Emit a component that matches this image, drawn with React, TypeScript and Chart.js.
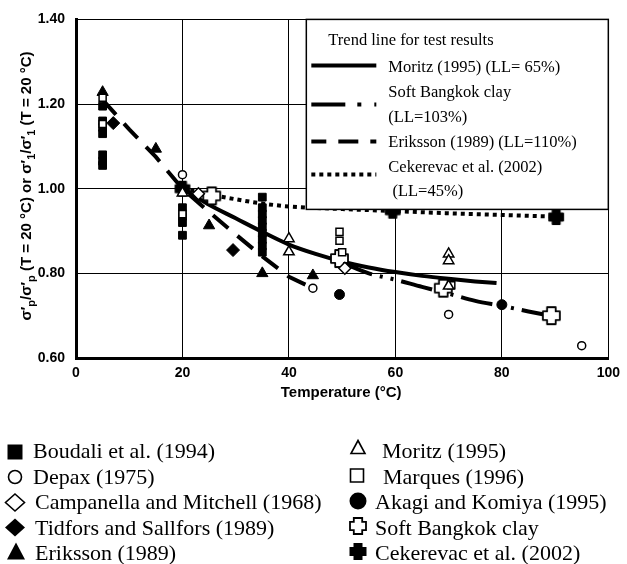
import { useEffect, useRef } from "react";
import { Chart, registerables } from "chart.js";

Chart.register(...registerables);

// ---- Measured points: temperature (°C) and normalised yield stress ratio ----
const boudaliT = [5, 5, 5, 5, 5, 5, 5, 20, 20, 20, 20, 35, 35, 35, 35, 35, 35, 35, 35, 35];
const boudaliR = [1.195, 1.16, 1.145, 1.13, 1.08, 1.065, 1.055, 0.955, 0.935, 0.92, 0.89, 0.98, 0.955, 0.94, 0.925, 0.91, 0.895, 0.88, 0.865, 0.85];

const depaxT = [20, 44.5, 70, 95];
const depaxR = [1.033, 0.765, 0.703, 0.629];

const campanellaT = [23, 50.5];
const campanellaR = [0.988, 0.812];

const tidforsT = [7, 20, 29.5];
const tidforsR = [1.155, 1.0, 0.855];

const erikssonT = [5, 15, 25, 35, 44.5];
const erikssonR = [1.228, 1.094, 0.913, 0.8, 0.795];

const moritzT = [20, 40, 40, 70, 70, 70];
const moritzR = [0.99, 0.882, 0.851, 0.846, 0.83, 0.77];

const marquesT = [5, 5, 20, 49.5, 49.5, 50, 70.5];
const marquesR = [1.215, 1.153, 0.94, 0.898, 0.877, 0.85, 0.772];

const akagiT = [49.5, 80];
const akagiR = [0.75, 0.726];

const bangkokT = [25.5, 49.5, 69, 89.3];
const bangkokR = [0.983, 0.835, 0.765, 0.7];

const cekerevacT = [20, 59.5, 90.2];
const cekerevacR = [1.0, 0.948, 0.933];

// ---- Trend lines ----
const moritzLineT = [20, 25, 30, 35, 40, 45, 50, 55, 60, 65, 70, 75, 79];
const moritzLineR = [1.0, 0.962, 0.93, 0.898, 0.868, 0.846, 0.828, 0.814, 0.803, 0.794, 0.787, 0.781, 0.777];

const bangkokLineT = [50, 55, 60, 65, 70, 75, 80, 85, 89];
const bangkokLineR = [0.825, 0.8, 0.785, 0.768, 0.752, 0.735, 0.723, 0.71, 0.7];

const erikssonLineT = [5, 10, 15, 20, 25, 30, 35, 40, 44.5];
const erikssonLineR = [1.21, 1.14, 1.075, 1.0, 0.945, 0.892, 0.84, 0.792, 0.765];

const cekerevacLineT = [20, 25, 30, 35, 40, 50, 60, 70, 80, 90];
const cekerevacLineR = [1.0, 0.987, 0.975, 0.965, 0.958, 0.952, 0.947, 0.942, 0.938, 0.934];

// ---- Axes ----
const xTicks = [0, 20, 40, 60, 80, 100];
const yTicks = [0.6, 0.8, 1.0, 1.2, 1.4];
const xTitle = "Temperature (°C)";

const trendHeading = "Trend line for test results";
const leftLegend = [
  "Boudali et al. (1994)",
  "Depax (1975)",
  "Campanella and Mitchell (1968)",
  "Tidfors and Sallfors (1989)",
  "Eriksson (1989)",
];
const rightLegend = [
  "Moritz (1995)",
  "Marques (1996)",
  "Akagi and Komiya (1995)",
  "Soft Bangkok clay",
  "Cekerevac et al. (2002)",
];

const SANS = "'Liberation Sans', Arial, Helvetica, sans-serif";
const SERIF = "'Liberation Serif', 'Times New Roman', Times, serif";

const pts = (t: number[], r: number[]) => t.map((x, i) => ({ x, y: r[i] }));

function plusPath(ctx: CanvasRenderingContext2D, cx: number, cy: number, s: number, a: number) {
  ctx.beginPath();
  ctx.moveTo(cx - a, cy - s);
  ctx.lineTo(cx + a, cy - s);
  ctx.lineTo(cx + a, cy - a);
  ctx.lineTo(cx + s, cy - a);
  ctx.lineTo(cx + s, cy + a);
  ctx.lineTo(cx + a, cy + a);
  ctx.lineTo(cx + a, cy + s);
  ctx.lineTo(cx - a, cy + s);
  ctx.lineTo(cx - a, cy + a);
  ctx.lineTo(cx - s, cy + a);
  ctx.lineTo(cx - s, cy - a);
  ctx.lineTo(cx - a, cy - a);
  ctx.closePath();
}

function makePlus(s: number, a: number, filled: boolean): HTMLCanvasElement {
  const c = document.createElement("canvas");
  const size = Math.ceil(2 * s + 4);
  c.width = size;
  c.height = size;
  const ctx = c.getContext("2d")!;
  plusPath(ctx, size / 2, size / 2, s, a);
  ctx.fillStyle = filled ? "#000" : "#fff";
  ctx.fill();
  ctx.lineWidth = 1.8;
  ctx.strokeStyle = "#000";
  ctx.lineJoin = "round";
  ctx.stroke();
  return c;
}

function drawSquare(ctx: CanvasRenderingContext2D, cx: number, cy: number, w: number, h: number, filled: boolean) {
  ctx.beginPath();
  ctx.rect(cx - w / 2, cy - h / 2, w, h);
  if (filled) {
    ctx.fillStyle = "#000";
    ctx.fill();
  } else {
    ctx.fillStyle = "#fff";
    ctx.fill();
    ctx.lineWidth = 1.6;
    ctx.strokeStyle = "#000";
    ctx.stroke();
  }
}

function drawCircle(ctx: CanvasRenderingContext2D, cx: number, cy: number, r: number, filled: boolean) {
  ctx.beginPath();
  ctx.arc(cx, cy, r, 0, Math.PI * 2);
  if (filled) {
    ctx.fillStyle = "#000";
    ctx.fill();
  } else {
    ctx.lineWidth = 1.6;
    ctx.strokeStyle = "#000";
    ctx.stroke();
  }
}

function drawDiamond(ctx: CanvasRenderingContext2D, cx: number, cy: number, hw: number, hh: number, filled: boolean) {
  ctx.beginPath();
  ctx.moveTo(cx, cy - hh);
  ctx.lineTo(cx + hw, cy);
  ctx.lineTo(cx, cy + hh);
  ctx.lineTo(cx - hw, cy);
  ctx.closePath();
  if (filled) {
    ctx.fillStyle = "#000";
    ctx.fill();
  } else {
    ctx.lineWidth = 1.6;
    ctx.strokeStyle = "#000";
    ctx.stroke();
  }
}

function drawTriangle(ctx: CanvasRenderingContext2D, cx: number, cy: number, hw: number, hh: number, filled: boolean) {
  ctx.beginPath();
  ctx.moveTo(cx, cy - hh);
  ctx.lineTo(cx + hw, cy + hh);
  ctx.lineTo(cx - hw, cy + hh);
  ctx.closePath();
  if (filled) {
    ctx.fillStyle = "#000";
    ctx.fill();
  } else {
    ctx.lineWidth = 1.6;
    ctx.strokeStyle = "#000";
    ctx.stroke();
  }
}

const decorations = {
  id: "decorations",
  afterDatasetsDraw(chart: any) {
    const ctx: CanvasRenderingContext2D = chart.ctx;
    const area = chart.chartArea;
    // trend-line key in the upper-right corner of the plot
    const bx = area.right - 302;
    const by = area.top;
    const bw = 302;
    const bh = 190;
    ctx.save();
    ctx.fillStyle = "#fff";
    ctx.fillRect(bx, by, bw, bh);
    ctx.lineWidth = 1.5;
    ctx.strokeStyle = "#000";
    ctx.strokeRect(bx, by, bw, bh);

    ctx.fillStyle = "#000";
    ctx.font = `16.5px ${SERIF}`;
    ctx.textAlign = "left";
    ctx.textBaseline = "alphabetic";
    ctx.fillText(trendHeading, bx + 22, by + 26);
    ctx.fillText("Moritz (1995) (LL= 65%)", bx + 82, by + 53);
    ctx.fillText("Soft Bangkok clay", bx + 82, by + 78);
    ctx.fillText("(LL=103%)", bx + 82, by + 103);
    ctx.fillText("Eriksson (1989) (LL=110%)", bx + 82, by + 128);
    ctx.fillText("Cekerevac et al. (2002)", bx + 82, by + 153);
    ctx.fillText(" (LL=45%)", bx + 82, by + 177);

    const sx0 = bx + 5;
    const sx1 = bx + 70;
    ctx.lineWidth = 4;
    ctx.lineCap = "butt";
    const sample = (y: number, dash: number[]) => {
      ctx.setLineDash(dash);
      ctx.beginPath();
      ctx.moveTo(sx0, y);
      ctx.lineTo(sx1, y);
      ctx.stroke();
    };
    sample(by + 46, []);
    sample(by + 85, [34, 12, 4, 13, 4, 100]);
    sample(by + 122, [15, 12, 20, 12, 6, 100]);
    sample(by + 155, [4, 4]);
    ctx.setLineDash([]);
    ctx.restore();
  },
  afterDraw(chart: any) {
    const ctx: CanvasRenderingContext2D = chart.ctx;
    const area = chart.chartArea;
    ctx.save();
    ctx.fillStyle = "#000";

    // x axis title
    ctx.font = `bold 15px ${SANS}`;
    ctx.textAlign = "center";
    ctx.textBaseline = "middle";
    ctx.fillText(xTitle, (area.left + area.right) / 2 - 1, 393);

    // y axis title with subscripts
    const segs = [
      { t: "σ′", sub: false },
      { t: "p", sub: true },
      { t: "/σ′", sub: false },
      { t: "p", sub: true },
      { t: " (T = 20 °C) or σ′", sub: false },
      { t: "1", sub: true },
      { t: "/σ′", sub: false },
      { t: "1", sub: true },
      { t: " (T = 20 °C)", sub: false },
    ];
    const mainFont = `bold 15px ${SANS}`;
    const subFont = `bold 11px ${SANS}`;
    let total = 0;
    for (const s of segs) {
      ctx.font = s.sub ? subFont : mainFont;
      total += ctx.measureText(s.t).width;
    }
    ctx.translate(31, 186 + total / 2);
    ctx.rotate(-Math.PI / 2);
    ctx.textAlign = "left";
    ctx.textBaseline = "alphabetic";
    let x = 0;
    for (const s of segs) {
      ctx.font = s.sub ? subFont : mainFont;
      ctx.fillText(s.t, x, s.sub ? 4 : 0);
      x += ctx.measureText(s.t).width;
    }
    ctx.setTransform(1, 0, 0, 1, 0, 0);

    // symbol key below the chart
    const rows = [458, 483.5, 509, 534.5, 560];
    ctx.font = `22px ${SERIF}`;
    ctx.textAlign = "left";
    ctx.textBaseline = "alphabetic";
    const leftTextX = [33, 33, 35, 35, 35];
    leftLegend.forEach((t, i) => ctx.fillText(t, leftTextX[i], rows[i]));
    const rightTextX = [382, 383, 375, 375, 375];
    rightLegend.forEach((t, i) => ctx.fillText(t, rightTextX[i], rows[i]));

    drawSquare(ctx, 15, 452, 15, 15, true);
    drawCircle(ctx, 15, 477, 6.5, false);
    drawDiamond(ctx, 15, 502.5, 9.5, 8.5, false);
    drawDiamond(ctx, 15, 527.5, 10, 9, true);
    drawTriangle(ctx, 16, 551, 9, 8.5, true);

    drawTriangle(ctx, 358, 447, 7, 6.5, false);
    drawSquare(ctx, 357, 475.5, 13, 13, false);
    drawCircle(ctx, 358, 501, 8.5, true);
    plusPath(ctx, 358, 526, 8, 4.2);
    ctx.fillStyle = "#fff";
    ctx.fill();
    ctx.lineWidth = 1.8;
    ctx.strokeStyle = "#000";
    ctx.stroke();
    plusPath(ctx, 358, 551.5, 8.5, 4.5);
    ctx.fillStyle = "#000";
    ctx.fill();

    ctx.restore();
  },
};

export default function App() {
  const ref = useRef<HTMLCanvasElement>(null);

  useEffect(() => {
    const canvas = ref.current;
    if (!canvas) return;

    const openPlus = makePlus(8.5, 4.3, false);
    const filledPlus = makePlus(7, 3.6, true);

    const open = { backgroundColor: "#fff", borderColor: "#000", borderWidth: 1.5 };
    const filled = { backgroundColor: "#000", borderColor: "#000", borderWidth: 1 };
    const trend = { showLine: true, pointRadius: 0, borderColor: "#000", borderWidth: 4, borderCapStyle: "butt", fill: false, order: 30 };

    const chart = new Chart(canvas, {
      type: "scatter",
      data: {
        datasets: [
          { label: "Moritz trend", data: pts(moritzLineT, moritzLineR), ...trend, cubicInterpolationMode: "monotone" },
          { label: "Bangkok trend", data: pts(bangkokLineT, bangkokLineR), ...trend, borderDash: [32, 8, 3, 8, 3, 8], cubicInterpolationMode: "monotone" },
          { label: "Eriksson trend", data: pts(erikssonLineT, erikssonLineR), ...trend, borderDash: [20, 12] },
          { label: "Cekerevac trend", data: pts(cekerevacLineT, cekerevacLineR), ...trend, borderDash: [4, 4], cubicInterpolationMode: "monotone" },

          { label: "Boudali", data: pts(boudaliT, boudaliR), pointStyle: "rect", pointRadius: 5.5, ...filled, order: 20 },
          { label: "Tidfors", data: pts(tidforsT, tidforsR), pointStyle: "rectRot", pointRadius: 6.5, ...filled, order: 20 },
          { label: "Eriksson", data: pts(erikssonT, erikssonR), pointStyle: "triangle", pointRadius: 6.5, ...filled, order: 20 },
          { label: "Akagi", data: pts(akagiT, akagiR), pointStyle: "circle", pointRadius: 5, ...filled, order: 20 },
          { label: "Cekerevac", data: pts(cekerevacT, cekerevacR), pointStyle: filledPlus, pointRadius: 7, ...filled, order: 20 },

          { label: "Depax", data: pts(depaxT, depaxR), pointStyle: "circle", pointRadius: 4, ...open, order: 10 },
          { label: "Campanella", data: pts(campanellaT, campanellaR), pointStyle: "rectRot", pointRadius: 6, ...open, order: 10 },
          { label: "Soft Bangkok", data: pts(bangkokT, bangkokR), pointStyle: openPlus, pointRadius: 8, ...open, order: 10 },
          { label: "Moritz", data: pts(moritzT, moritzR), pointStyle: "triangle", pointRadius: 6, ...open, order: 5 },
          { label: "Marques", data: pts(marquesT, marquesR), pointStyle: "rect", pointRadius: 5, ...open, order: 5 },
        ] as any,
      },
      options: {
        responsive: false,
        animation: false,
        devicePixelRatio: 1,
        layout: { padding: { left: 0, top: 19, right: 12, bottom: 0 } },
        plugins: {
          legend: { display: false },
          tooltip: { enabled: false },
          title: { display: false },
        },
        scales: {
          x: {
            type: "linear",
            min: 0,
            max: 100,
            afterBuildTicks: (s: any) => {
              s.ticks = xTicks.map((v) => ({ value: v }));
            },
            afterFit: (s: any) => {
              s.height = 206;
            },
            ticks: {
              color: "#000",
              font: { family: SANS, size: 14, weight: "bold" },
              padding: 7,
              callback: (v: any) => String(v),
            },
            grid: { color: "#000", lineWidth: 1, drawTicks: false },
            border: { color: "#000", width: 3 },
          },
          y: {
            type: "linear",
            min: 0.6,
            max: 1.4,
            afterBuildTicks: (s: any) => {
              s.ticks = yTicks.map((v) => ({ value: v }));
            },
            afterFit: (s: any) => {
              s.width = 76;
            },
            ticks: {
              color: "#000",
              font: { family: SANS, size: 14, weight: "bold" },
              padding: 11,
              callback: (v: any) => Number(v).toFixed(2),
            },
            grid: { color: "#000", lineWidth: 1, drawTicks: false },
            border: { color: "#000", width: 3 },
          },
        },
      } as any,
      plugins: [decorations],
    });

    return () => chart.destroy();
  }, []);

  return (
    <div style={{ position: "absolute", left: 0, top: 0, width: 627, height: 564, background: "#fff" }}>
      <canvas ref={ref} width={627} height={564} style={{ display: "block", width: 627, height: 564 }} />
    </div>
  );
}
